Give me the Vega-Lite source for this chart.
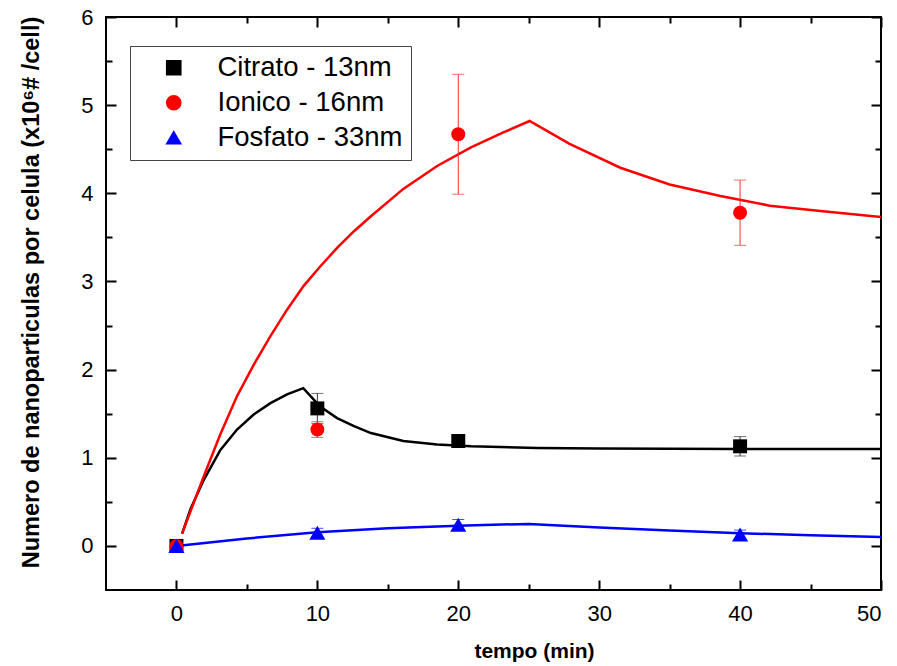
{
  "$schema": "https://vega.github.io/schema/vega-lite/v6.json",
  "width": 775,
  "height": 573,
  "autosize": {"type": "none"},
  "padding": {"left": 106, "top": 17, "right": 16, "bottom": 76},
  "background": "white",
  "config": {
    "view": {"stroke": "black", "strokeWidth": 2},
    "font": "Liberation Sans",
    "axis": {
      "domain": false,
      "ticks": false,
      "grid": true,
      "gridColor": "black",
      "gridWidth": 2,
      "gridOpacity": 1,
      "zindex": 1,
      "labelFont": "Liberation Sans",
      "labelFontSize": 22,
      "labelColor": "black",
      "titleFont": "Liberation Sans",
      "titleColor": "black",
      "titleFontWeight": "bold"
    },
    "legend": {
      "labelFont": "Liberation Sans",
      "labelFontSize": 27.5,
      "labelColor": "black",
      "labelLimit": 400
    }
  },
  "datasets": {
    "medidas": [
      {"series": "Citrato - 13nm", "t": 0, "y": 0.0, "err": 0.02},
      {"series": "Citrato - 13nm", "t": 10, "y": 1.56, "err": 0.17},
      {"series": "Citrato - 13nm", "t": 20, "y": 1.19, "err": 0.07},
      {"series": "Citrato - 13nm", "t": 40, "y": 1.13, "err": 0.11},
      {"series": "Ionico - 16nm", "t": 0, "y": 0.0, "err": 0.03},
      {"series": "Ionico - 16nm", "t": 10, "y": 1.32, "err": 0.09},
      {"series": "Ionico - 16nm", "t": 20, "y": 4.67, "err": 0.68},
      {"series": "Ionico - 16nm", "t": 40, "y": 3.78, "err": 0.37},
      {"series": "Fosfato - 33nm", "t": 0, "y": 0.0, "err": 0.02},
      {"series": "Fosfato - 33nm", "t": 10, "y": 0.15, "err": 0.05},
      {"series": "Fosfato - 33nm", "t": 20, "y": 0.24, "err": 0.06},
      {"series": "Fosfato - 33nm", "t": 40, "y": 0.13, "err": 0.05}
    ],
    "ajuste": [
      {"series": "Citrato - 13nm", "t": 0.4, "y": 0.14},
      {"series": "Citrato - 13nm", "t": 1.0, "y": 0.42},
      {"series": "Citrato - 13nm", "t": 1.94, "y": 0.75},
      {"series": "Citrato - 13nm", "t": 3.12, "y": 1.09},
      {"series": "Citrato - 13nm", "t": 4.3, "y": 1.32},
      {"series": "Citrato - 13nm", "t": 5.48, "y": 1.49},
      {"series": "Citrato - 13nm", "t": 6.67, "y": 1.62},
      {"series": "Citrato - 13nm", "t": 7.85, "y": 1.72},
      {"series": "Citrato - 13nm", "t": 9.0, "y": 1.79},
      {"series": "Citrato - 13nm", "t": 10.2, "y": 1.58},
      {"series": "Citrato - 13nm", "t": 11.4, "y": 1.45},
      {"series": "Citrato - 13nm", "t": 12.6, "y": 1.36},
      {"series": "Citrato - 13nm", "t": 13.8, "y": 1.28},
      {"series": "Citrato - 13nm", "t": 16.1, "y": 1.19},
      {"series": "Citrato - 13nm", "t": 18.5, "y": 1.15},
      {"series": "Citrato - 13nm", "t": 20.9, "y": 1.13},
      {"series": "Citrato - 13nm", "t": 25.6, "y": 1.11},
      {"series": "Citrato - 13nm", "t": 30, "y": 1.105},
      {"series": "Citrato - 13nm", "t": 40, "y": 1.1},
      {"series": "Citrato - 13nm", "t": 50, "y": 1.1},
      {"series": "Ionico - 16nm", "t": 0.4, "y": 0.14},
      {"series": "Ionico - 16nm", "t": 1.94, "y": 0.79},
      {"series": "Ionico - 16nm", "t": 3.1, "y": 1.26},
      {"series": "Ionico - 16nm", "t": 4.3, "y": 1.7},
      {"series": "Ionico - 16nm", "t": 5.5, "y": 2.06},
      {"series": "Ionico - 16nm", "t": 6.67, "y": 2.38},
      {"series": "Ionico - 16nm", "t": 7.85, "y": 2.68},
      {"series": "Ionico - 16nm", "t": 9.03, "y": 2.95},
      {"series": "Ionico - 16nm", "t": 10.2, "y": 3.17},
      {"series": "Ionico - 16nm", "t": 11.4, "y": 3.38},
      {"series": "Ionico - 16nm", "t": 12.6, "y": 3.57},
      {"series": "Ionico - 16nm", "t": 13.8, "y": 3.74},
      {"series": "Ionico - 16nm", "t": 16.1, "y": 4.05},
      {"series": "Ionico - 16nm", "t": 18.5, "y": 4.31},
      {"series": "Ionico - 16nm", "t": 20.9, "y": 4.52},
      {"series": "Ionico - 16nm", "t": 23.2, "y": 4.69},
      {"series": "Ionico - 16nm", "t": 25.06, "y": 4.82},
      {"series": "Ionico - 16nm", "t": 27.9, "y": 4.56},
      {"series": "Ionico - 16nm", "t": 31.5, "y": 4.29},
      {"series": "Ionico - 16nm", "t": 35.0, "y": 4.1},
      {"series": "Ionico - 16nm", "t": 38.6, "y": 3.97},
      {"series": "Ionico - 16nm", "t": 42.1, "y": 3.86},
      {"series": "Ionico - 16nm", "t": 45.7, "y": 3.8},
      {"series": "Ionico - 16nm", "t": 50, "y": 3.73},
      {"series": "Fosfato - 33nm", "t": 0, "y": 0.0},
      {"series": "Fosfato - 33nm", "t": 5, "y": 0.085},
      {"series": "Fosfato - 33nm", "t": 10, "y": 0.155},
      {"series": "Fosfato - 33nm", "t": 15, "y": 0.2},
      {"series": "Fosfato - 33nm", "t": 20, "y": 0.23},
      {"series": "Fosfato - 33nm", "t": 25, "y": 0.25},
      {"series": "Fosfato - 33nm", "t": 30, "y": 0.21},
      {"series": "Fosfato - 33nm", "t": 35, "y": 0.175},
      {"series": "Fosfato - 33nm", "t": 40, "y": 0.145},
      {"series": "Fosfato - 33nm", "t": 45, "y": 0.12},
      {"series": "Fosfato - 33nm", "t": 50, "y": 0.1}
    ]
  },
  "encoding": {
    "x": {
      "field": "t", "type": "quantitative",
      "scale": {"domain": [-5, 50], "nice": false, "zero": false},
      "axis": {
        "orient": "bottom",
        "values": [0, 5, 10, 15, 20, 25, 30, 35, 40, 45, 50],
        "labelExpr": "datum.value % 10 === 0 ? format(datum.value, 'd') : ''",
        "labelPadding": 13,
        "gridDash": {"condition": {"test": "datum.value % 10 === 0", "value": [10, 553]}, "value": [6, 561]},
        "title": "tempo (min)",
        "titleFontSize": 21,
        "titleX": 428,
        "titleY": 61,
        "titleBaseline": "middle"
      }
    },
    "y": {
      "field": "y", "type": "quantitative",
      "scale": {"domain": [-0.5, 6], "nice": false, "zero": false},
      "axis": {
        "orient": "left",
        "values": [0, 0.5, 1, 1.5, 2, 2.5, 3, 3.5, 4, 4.5, 5, 5.5, 6],
        "labelExpr": "datum.value % 1 === 0 ? format(datum.value, 'd') : ''",
        "labelPadding": 13,
        "gridDash": {"condition": {"test": "datum.value % 1 === 0", "value": [10, 755]}, "value": [6, 763]},
        "title": "Numero de nanoparticulas por celula (x10⁶# /cell)",
        "titleFontSize": 23.5,
        "titleAngle": -90,
        "titleX": -75,
        "titleY": 275,
        "titleBaseline": "middle",
        "titleAlign": "center"
      }
    }
  },
  "layer": [
    {
      "data": {"name": "ajuste"},
      "mark": {"type": "line", "strokeWidth": 2.5},
      "encoding": {
        "color": {
          "field": "series", "type": "nominal",
          "scale": {"domain": ["Citrato - 13nm", "Ionico - 16nm", "Fosfato - 33nm"], "range": ["#000000", "#ff0000", "#0000ff"]}
        }
      }
    },
    {
      "data": {"name": "medidas"},
      "transform": [{"filter": "datum.series === 'Citrato - 13nm'"}],
      "mark": {"type": "errorbar", "color": "#333333", "thickness": 1, "ticks": {"size": 12, "thickness": 1}},
      "encoding": {"yError": {"field": "err"}}
    },
    {
      "data": {"name": "medidas"},
      "transform": [{"filter": "datum.series === 'Ionico - 16nm'"}],
      "mark": {"type": "errorbar", "color": "#ff3030", "thickness": 1, "ticks": {"size": 12, "thickness": 1}},
      "encoding": {"yError": {"field": "err"}}
    },
    {
      "data": {"name": "medidas"},
      "transform": [{"filter": "datum.series === 'Fosfato - 33nm'"}],
      "mark": {"type": "errorbar", "color": "#0000ff", "thickness": 1, "ticks": {"size": 12, "thickness": 1}},
      "encoding": {"yError": {"field": "err"}}
    },
    {
      "data": {"name": "medidas"},
      "mark": {"type": "point", "filled": true, "opacity": 1},
      "encoding": {
        "color": {
          "field": "series", "type": "nominal",
          "scale": {"domain": ["Citrato - 13nm", "Ionico - 16nm", "Fosfato - 33nm"], "range": ["#000000", "#ff0000", "#0000ff"]},
          "legend": {
            "orient": "none",
            "legendX": 24,
            "legendY": 29,
            "title": null,
            "symbolSize": 200,
            "symbolOffset": 22,
            "labelOffset": 30,
            "rowPadding": 6,
            "padding": 8,
            "strokeColor": "#444444",
            "fillColor": "white"
          }
        },
        "shape": {
          "field": "series", "type": "nominal",
          "scale": {"domain": ["Citrato - 13nm", "Ionico - 16nm", "Fosfato - 33nm"], "range": ["square", "circle", "triangle-up"]}
        },
        "size": {"condition": {"test": "datum.series === 'Fosfato - 33nm'", "value": 260}, "value": 195}
      }
    }
  ]
}
